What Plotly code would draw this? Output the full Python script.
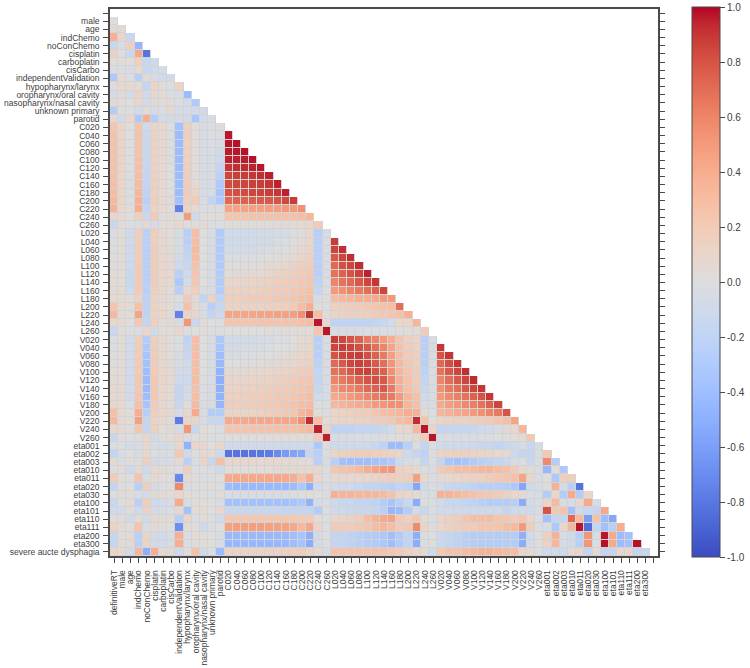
import plotly.graph_objects as go

clinical_labels = ["definitiveRT", "male", "age", "indChemo", "noConChemo", "cisplatin", "carboplatin", "cisCarbo",
                   "independentValidation", "hypopharynx/larynx", "oropharynx/oral cavity",
                   "nasopharynx/nasal cavity", "unknown primary", "parotid"]
c_labels = ["C020", "C040", "C060", "C080", "C100", "C120", "C140", "C160", "C180", "C200", "C220", "C240", "C260"]
l_labels = ["L020", "L040", "L060", "L080", "L100", "L120", "L140", "L160", "L180", "L200", "L220", "L240", "L260"]
v_labels = ["V020", "V040", "V060", "V080", "V100", "V120", "V140", "V160", "V180", "V200", "V220", "V240", "V260"]
eta_labels = ["eta001", "eta002", "eta003", "eta010", "eta011", "eta020", "eta030", "eta100", "eta101", "eta110",
              "eta111", "eta200", "eta300"]
outcome_labels = ["severe aucte dysphagia"]
labels = clinical_labels + c_labels + l_labels + v_labels + eta_labels + outcome_labels

clinical_rows = [
    [],
    [.0],
    [.05, .05],
    [.38, .1, -.15],
    [-.15, -.05, .15, -.45],
    [.15, 0, -.15, .42, -.82],
    [.03, .03, 0, .15, -.15, -.12],
    [-.05, -.03, -.05, .08, -.15, -.12, -.05],
    [-.32, .07, -.04, -.25, .05, -.07, -.1, -.1],
    [.02, .08, .08, .04, -.18, .12, .02, -.02, .12],
    [-.08, .05, -.08, .12, -.1, .08, .04, -.03, -.04, -.42],
    [.05, .02, 0, .1, -.08, .05, .03, .05, -.04, -.1, -.3],
    [-.28, 0, 0, -.1, .03, -.05, -.03, .06, -.06, -.06, -.1, -.08],
    [.08, -.12, .1, -.32, .4, -.28, -.08, -.08, -.08, -.1, -.35, -.08, -.05],
]
c_rows = [
    [.25, .12, 0, .25, -.12, .12, .08, 0, -.38, .15, .02, -.05, -.03, .01],
    [.27, .12, 0, .27, -.14, .13, .08, -.02, -.42, .17, .02, -.05, -.03, -.02, .97],
    [.27, .12, 0, .27, -.14, .13, .08, -.02, -.42, .16, .03, -.05, -.04, -.05, .97, .98],
    [.27, .12, -.01, .27, -.15, .13, .08, -.02, -.42, .16, .03, -.05, -.05, -.08, .96, .97, .98],
    [.27, .12, -.01, .28, -.16, .13, .08, -.02, -.42, .16, .03, -.05, -.05, -.12, .95, .95, .96, .98],
    [.28, .12, -.02, .29, -.17, .14, .08, -.01, -.42, .17, .03, -.05, -.05, -.18, .9, .92, .93, .95, .97],
    [.28, .12, -.02, .3, -.18, .14, .08, 0, -.42, .17, .03, -.06, -.05, -.22, .85, .87, .88, .9, .92, .95],
    [.29, .12, -.02, .31, -.19, .15, .08, 0, -.42, .18, .05, -.06, -.05, -.3, .83, .85, .85, .87, .88, .9, .95],
    [.3, .12, -.03, .35, -.22, .16, .08, 0, -.42, .2, .12, -.06, -.05, -.36, .8, .82, .83, .85, .86, .88, .9, .95],
    [.33, .12, -.02, .38, -.25, .17, .08, .02, -.38, .17, .2, -.05, -.2, -.32, .72, .74, .75, .76, .77, .78, .8, .84, .88],
    [.36, .08, .03, .4, -.18, .14, .08, 0, -.75, .12, .08, -.03, -.02, -.03, .45, .46, .46, .47, .47, .48, .48, .5, .5, .55],
    [.1, .08, 0, .17, -.14, .2, .02, .05, -.03, .48, -.12, .03, 0, .03, .25, .25, .25, .26, .26, .26, .27, .27, .27, .3, .35],
    [-.15, .02, -.03, -.05, .08, -.07, .03, .03, .08, .02, .02, .05, -.03, -.01, .02, .02, .02, .03, .03, .03, .04, .05, .05, .08, .1, .2],
]
l_rows = [
    [-.02, .03, -.12, .17, -.25, .17, .08, .03, -.05, -.25, .3, 0, -.05, -.3,
     -.12, -.12, -.12, -.12, -.1, -.09, -.07, -.05, -.02, .03, .08, -.25, -.05],
    [-.02, .03, -.12, .17, -.25, .17, .08, .04, -.05, -.25, .3, 0, -.05, -.3,
     -.12, -.12, -.12, -.1, -.09, -.08, -.05, -.04, 0, .05, .1, -.25, -.05, .88],
    [-.02, .03, -.12, .18, -.25, .18, .08, .05, -.05, -.22, .32, 0, -.05, -.3,
     -.09, -.09, -.09, -.08, -.07, -.05, -.03, -.01, .03, .08, .12, -.25, -.05, .85, .92],
    [0, .03, -.12, .19, -.25, .18, .1, .06, -.08, -.18, .3, 0, -.05, -.3,
     -.04, -.04, -.03, -.02, -.01, 0, .02, .04, .07, .12, .15, -.25, -.05, .78, .85, .92],
    [.02, .03, -.12, .2, -.25, .18, .1, .07, -.12, -.15, .27, 0, -.05, -.3,
     0, 0, .01, .02, .03, .05, .08, .1, .13, .17, .2, -.25, -.05, .72, .82, .85, .92],
    [.03, .03, -.15, .2, -.25, .18, .1, .08, -.25, -.12, .24, 0, -.05, -.28,
     .04, .05, .06, .07, .08, .1, .13, .15, .18, .2, .22, -.25, -.05, .68, .75, .8, .86, .95],
    [.05, .04, -.15, .2, -.25, .18, .1, .06, -.32, -.06, .22, 0, -.05, -.28,
     .1, .1, .11, .12, .13, .15, .17, .18, .2, .22, .25, -.22, -.03, .6, .68, .72, .78, .85, .9],
    [.05, .05, -.12, .2, -.25, .16, .08, .04, -.25, .08, .17, -.02, -.05, -.28,
     .14, .14, .15, .16, .17, .18, .2, .2, .22, .25, .28, -.18, -.03, .5, .55, .6, .65, .7, .75, .85],
    [.08, .06, .03, .14, -.22, .12, .06, .02, -.03, .2, .05, -.2, .12, -.2,
     .17, .17, .18, .2, .2, .2, .22, .22, .25, .28, .3, -.05, .02, .3, .33, .35, .38, .4, .42, .5, .5],
    [.25, .08, .03, .28, -.22, .14, .08, .04, -.05, .28, .05, -.05, -.25, -.15,
     .12, .12, .13, .13, .14, .15, .16, .17, .2, .3, .4, .02, -.03, .15, .17, .18, .2, .22, .25, .27, .3, .7],
    [.33, .06, .02, .45, -.22, .14, .12, .02, -.75, .12, .1, -.05, -.2, -.12,
     .45, .45, .45, .45, .46, .46, .47, .47, .48, .55, .9, .3, .03, .12, .14, .15, .16, .17, .2, .22, .25, .28, .38],
    [.08, .07, 0, .22, -.18, .16, .03, .05, -.05, .52, -.14, .03, 0, -.03,
     .25, .25, .25, .25, .26, .26, .26, .27, .27, .28, .3, .97, .08, -.22, -.22, -.22, -.22, -.22, -.2, -.16, -.1, .1, .1, .35],
    [-.15, .02, -.02, -.02, .1, -.1, .03, .03, .1, -.02, 0, .02, -.02, -.02,
     0, 0, 0, 0, 0, .01, .01, .02, .02, .02, .03, .25, .97, -.05, -.05, -.05, -.05, -.04, -.04, -.03, -.02, .02, .03, .05, .2],
]
v_rows = [
    [-.02, .04, -.1, .17, -.28, .17, .08, .03, -.03, -.22, .3, 0, -.05, -.32,
     -.09, -.09, -.09, -.08, -.07, -.05, -.03, -.02, 0, .06, .08, -.25, -.05,
     .88, .85, .8, .75, .65, .6, .5, .4, .25, .15, .12, -.25, -.05],
    [-.02, .04, -.1, .18, -.32, .18, .08, .03, -.03, -.18, .3, 0, -.05, -.36,
     -.08, -.08, -.07, -.06, -.05, -.03, -.01, 0, .03, .08, .1, -.25, -.05,
     .85, .88, .86, .82, .78, .7, .6, .45, .28, .18, .14, -.25, -.05, .9],
    [-.01, .04, -.1, .19, -.36, .19, .08, .03, -.05, -.15, .3, 0, -.05, -.4,
     -.05, -.05, -.04, -.03, -.02, -.01, .01, .03, .06, .1, .12, -.25, -.05,
     .8, .85, .87, .88, .82, .75, .65, .48, .3, .2, .15, -.25, -.05, .8, .9],
    [0, .04, -.1, .2, -.38, .2, .09, .05, -.06, -.12, .3, 0, -.05, -.44,
     0, 0, .01, .02, .03, .05, .06, .08, .1, .13, .15, -.22, -.05,
     .72, .78, .85, .87, .85, .78, .7, .52, .33, .22, .17, -.25, -.05, .72, .82, .9],
    [.03, .04, -.1, .2, -.4, .2, .1, .06, -.08, -.12, .3, 0, -.05, -.47,
     .05, .05, .06, .07, .08, .1, .12, .13, .15, .18, .2, -.18, -.05,
     .68, .72, .78, .85, .87, .8, .75, .55, .35, .25, .18, -.22, -.05, .68, .78, .85, .92],
    [.05, .05, -.1, .22, -.42, .22, .1, .06, -.12, -.12, .3, 0, -.05, -.5,
     .1, .1, .11, .12, .13, .14, .15, .17, .2, .22, .24, -.18, -.05,
     .6, .65, .7, .75, .8, .82, .78, .6, .38, .27, .2, -.18, -.05, .6, .7, .78, .85, .93],
    [.06, .06, -.1, .22, -.43, .22, .1, .05, -.18, -.1, .27, -.02, -.05, -.5,
     .14, .14, .15, .16, .17, .18, .2, .2, .23, .25, .27, -.15, -.05,
     .5, .58, .6, .65, .72, .75, .78, .65, .4, .28, .22, -.15, -.05, .55, .65, .7, .78, .85, .9],
    [.08, .06, -.08, .24, -.4, .22, .1, .05, -.18, -.06, .3, -.03, -.05, -.47,
     .16, .16, .17, .18, .19, .2, .22, .22, .25, .27, .3, -.1, -.05,
     .42, .46, .5, .55, .6, .65, .7, .65, .5, .35, .28, -.12, -.05, .5, .57, .62, .68, .75, .8, .9],
    [.1, .07, -.04, .28, -.36, .2, .1, .04, -.15, .02, .32, -.05, -.05, -.45,
     .17, .17, .18, .19, .2, .21, .23, .24, .27, .3, .32, -.02, -.03,
     .33, .36, .4, .42, .45, .5, .52, .55, .55, .35, .28, -.06, -.05, .42, .48, .52, .58, .62, .68, .75, .85],
    [.28, .08, .02, .4, -.26, .17, .1, .06, -.05, .08, .42, -.05, -.28, -.28,
     .12, .12, .13, .14, .15, .17, .2, .22, .25, .35, .4, .03, -.02,
     .12, .14, .16, .18, .2, .25, .3, .32, .35, .4, .38, .05, -.02, .35, .38, .42, .46, .5, .55, .6, .65, .8],
    [.33, .06, .02, .47, -.18, .14, .1, .03, -.78, .14, .12, -.05, -.15, -.15,
     .42, .42, .42, .43, .43, .43, .44, .45, .45, .55, .92, .3, .03,
     .12, .13, .14, .15, .16, .18, .2, .22, .3, .33, .92, .25, 0, .12, .14, .15, .16, .18, .2, .22, .25, .3, .45],
    [.08, .07, .02, .25, -.18, .16, .04, .05, -.05, .52, -.15, .03, 0, -.03,
     .25, .25, .25, .26, .26, .26, .27, .27, .27, .3, .33, .95, .12,
     -.22, -.22, -.22, -.2, -.2, -.18, -.15, -.1, .08, .08, .33, .97, .12, -.18, -.18, -.17, -.17, -.15, -.12, -.08, -.05, .05, .08, .35],
    [-.15, .02, -.02, -.02, .1, -.1, .03, .03, .1, -.02, 0, .03, -.02, -.02,
     0, 0, 0, 0, 0, .01, .01, .02, .02, .02, .03, .2, .95,
     -.05, -.05, -.05, -.05, -.04, -.04, -.03, -.02, .02, .03, .05, .2, .97, -.05, -.05, -.05, -.04, -.04, -.03, -.02, -.01, .01, .03, .05, .22],
]
eta_rows = [
    [-.02, -.02, -.08, -.05, .1, -.05, -.08, -.05, .07, -.48, .1, .1, 0, .1,
     -.1, -.1, -.1, -.1, -.1, -.11, -.11, -.12, -.12, -.12, -.12, -.32, -.02,
     -.12, -.12, -.12, -.12, -.12, -.15, -.22, -.42, -.42, -.25, -.03, -.18, -.02,
     -.1, -.12, -.12, -.12, -.12, -.15, -.15, -.2, -.15, -.12, -.05, -.15, -.05],
    [-.2, -.05, 0, -.05, .1, -.03, -.05, -.05, .22, -.12, 0, .07, .05, -.12,
     -.82, -.82, -.82, -.82, -.8, -.78, -.7, -.62, -.58, -.55, -.18, -.25, -.03,
     .12, .15, .15, .18, .18, .16, .16, .14, .1, -.12, -.18, -.22, -.03,
     .12, .14, .15, .15, .14, .12, .1, .08, .05, -.12, -.18, -.18, -.05, .22],
    [.05, -.05, .03, -.02, .17, -.08, -.06, -.05, .05, -.25, -.05, .12, -.15, .28,
     .1, .1, .1, .09, .08, .08, .08, .07, .06, .03, .02, -.25, -.05,
     -.25, -.38, -.4, -.4, -.4, -.38, -.35, -.3, -.12, -.05, -.03, -.18, -.03,
     -.18, -.35, -.38, -.35, -.3, -.25, -.22, -.18, -.15, -.05, -.03, -.15, -.05, .58, -.28],
    [-.02, .05, -.12, .05, -.12, .08, .05, .01, -.02, .17, -.03, 0, -.02, -.12,
     .03, .03, .03, .03, .04, .04, .05, .05, .06, .07, .08, .1, -.03,
     .22, .27, .28, .32, .4, .45, .5, .52, .15, .12, .08, -.02, -.05,
     .2, .25, .3, .3, .32, .35, .35, .3, .28, .2, .1, .03, -.05, -.45, 0, -.32],
    [.2, .03, 0, .25, -.05, .08, .02, 0, -.72, .05, .03, -.05, -.03, 0,
     .42, .44, .44, .44, .44, .44, .44, .42, .4, .27, .4, .1, -.03,
     .08, .08, .08, .1, .1, .12, .15, .18, .15, .17, .47, .1, -.03,
     .05, .08, .1, .12, .15, .16, .2, .22, .25, .27, .45, .1, -.05, 0, -.32, .17, .17],
    [-.2, .02, 0, -.25, .17, -.08, -.03, 0, .58, -.05, 0, .03, .03, -.03,
     -.42, -.44, -.44, -.44, -.44, -.44, -.44, -.44, -.42, -.32, -.5, -.12, -.03,
     -.1, -.12, -.12, -.15, -.18, -.2, -.22, -.25, -.2, -.22, -.55, -.12, -.03,
     -.1, -.15, -.18, -.2, -.22, -.25, -.25, -.25, -.28, -.32, -.55, -.12, -.05, .03, .37, -.05, -.25, -.82],
    [-.02, .02, .02, -.05, -.08, .05, .05, .03, .1, .03, -.02, 0, -.02, .03,
     -.05, -.05, -.05, -.05, -.05, -.05, -.05, -.04, -.03, 0, .03, 0, -.03,
     .38, .36, .36, .34, .34, .34, .32, .27, .12, .1, .05, -.03, -.05,
     .38, .36, .34, .3, .27, .24, .22, .2, .16, .1, .05, -.03, -.05, -.28, .1, -.28, .42, -.28, .1],
    [-.16, 0, .05, -.25, .17, -.12, -.1, -.05, .42, -.05, .03, .03, 0, -.05,
     -.38, -.38, -.38, -.38, -.38, -.38, -.38, -.38, -.36, -.32, -.48, -.06, -.03,
     -.12, -.15, -.15, -.18, -.2, -.22, -.28, -.36, -.25, -.15, -.52, -.02, -.03,
     -.1, -.15, -.16, -.2, -.22, -.25, -.28, -.28, -.28, -.25, -.52, -.08, -.03, .12, .32, -.05, -.05, .1, .42, -.05],
    [-.12, -.1, .03, -.12, .14, -.06, -.06, -.03, .05, -.38, .03, .05, 0, .1,
     -.15, -.15, -.15, -.15, -.15, -.16, -.16, -.18, -.18, -.18, -.2, -.28, -.02,
     -.12, -.12, -.15, -.15, -.15, -.18, -.25, -.45, -.42, -.28, -.1, -.15, -.03,
     -.1, -.1, -.12, -.12, -.12, -.12, -.12, -.12, -.18, -.12, -.12, -.12, -.05, .8, .22, .27, -.38, -.1, -.15, -.18, .42],
    [.02, .03, -.12, .05, -.12, .07, .05, .03, -.25, .12, -.03, .03, -.02, -.1,
     .22, .22, .22, .22, .22, .22, .22, .22, .22, .2, .2, .03, -.03,
     .1, .12, .14, .18, .3, .36, .42, .45, .2, .15, .24, .02, -.03,
     .1, .15, .18, .25, .3, .3, .3, .25, .25, .2, .25, .1, -.03, -.38, -.18, -.18, .72, .32, -.6, .27, -.42, -.55],
    [.14, .05, .03, .25, -.05, .07, .03, 0, -.68, .03, .02, -.12, -.02, 0,
     .47, .48, .48, .48, .48, .47, .47, .46, .44, .33, .44, .12, -.03,
     .2, .2, .2, .22, .25, .3, .35, .3, .2, .22, .57, .12, -.03,
     .1, .15, .18, .2, .2, .25, .25, .25, .3, .32, .5, .18, -.03, -.03, -.32, .1, .34, .97, -.85, -.18, -.38, -.25, .4],
    [-.17, .03, .05, -.25, .12, -.1, -.1, -.05, .38, -.03, .03, .03, 0, -.05,
     -.44, -.44, -.44, -.44, -.44, -.44, -.44, -.43, -.4, -.36, -.5, -.08, 0,
     -.18, -.2, -.22, -.25, -.28, -.3, -.33, -.4, -.3, -.2, -.5, -.02, 0,
     -.14, -.18, -.22, -.25, -.28, -.28, -.28, -.28, -.28, -.28, -.5, -.1, 0, .15, .37, -.05, -.12, -.25, .52, -.05, .97, .42, -.42, -.38],
    [-.17, .03, .05, -.25, .12, -.1, -.1, -.05, .4, -.03, .03, .03, 0, -.05,
     -.45, -.45, -.45, -.45, -.45, -.45, -.45, -.44, -.41, -.37, -.52, -.08, 0,
     -.18, -.2, -.22, -.25, -.28, -.3, -.33, -.4, -.3, -.2, -.52, -.02, 0,
     -.14, -.18, -.22, -.25, -.28, -.28, -.28, -.28, -.28, -.28, -.52, -.1, 0, .13, .35, -.05, -.12, -.25, .52, -.03, .98, .42, -.42, -.38, .98],
]
outcome_rows = [
    [.12, .08, -.1, .35, -.5, .4, .08, .05, -.12, .04, .28, -.12, -.03, -.42,
     .12, .12, .12, .12, .12, .13, .14, .15, .17, .18, .14, .05, -.07,
     .27, .27, .27, .27, .27, .27, .27, .24, .2, .15, .1, .05, -.12,
     .22, .27, .27, .32, .34, .37, .37, .34, .32, .3, .12, .05, -.03,
     -.12, -.12, -.12, .08, .1, -.18, .07, -.18, -.18, .08, .1, -.18, -.15],
]
tick_values = [1.0, 0.8, 0.6, 0.4, 0.2, 0.0, -0.2, -0.4, -0.6, -0.8, -1.0]

coolwarm = ["#3b4cc0", "#445acc", "#4d68d7", "#5775e1", "#6282ea", "#6c8ef1", "#779af7", "#82a5fb", "#8db0fe",
            "#98b9ff", "#a3c2ff", "#aec9fd", "#b8d0f9", "#c2d5f4", "#ccd9ee", "#d5dbe6", "#dddddd", "#e5d8d1",
            "#ecd3c5", "#f1ccb9", "#f5c4ad", "#f7bba0", "#f7b194", "#f7a687", "#f49a7b", "#f18d6f", "#ec7f63",
            "#e57058", "#de604d", "#d55042", "#cb3e38", "#c0282f", "#b40426"]
colorscale = [[i / (len(coolwarm) - 1), c] for i, c in enumerate(coolwarm)]

rows = clinical_rows + c_rows + l_rows + v_rows + eta_rows + outcome_rows
n = len(labels)
z = [list(r) + [None] * (n - len(r)) for r in rows]
backing = [[None if v is None else 0 for v in r] for r in z]
idx = list(range(n))

W, H = 750, 668
L, R, T, B = 110, 658, 9, 556
AXIS = "#4a4a4a"
TEXT = "#404040"
FONT = "Liberation Sans"

fig = go.Figure()
fig.add_trace(go.Heatmap(x=idx, y=idx, z=backing, zmin=-1, zmax=1, showscale=False, hoverinfo="skip",
                         colorscale=[[0, "#d3d3d3"], [1, "#d3d3d3"]]))
fig.add_trace(go.Heatmap(
    x=idx, y=idx, z=z, zmin=-1, zmax=1, colorscale=colorscale, xgap=1, ygap=1, hoverongaps=False,
    colorbar=dict(
        thickness=28, thicknessmode="pixels", len=550, lenmode="pixels",
        x=692 / W, xanchor="left", xpad=0, y=1 - 7 / H, yanchor="top", ypad=0,
        outlinecolor=AXIS, outlinewidth=1, tickmode="array", tickvals=tick_values,
        ticktext=[f"{v:.1f}" for v in tick_values], ticks="outside", ticklen=5, tickcolor=AXIS, tickwidth=1,
        tickfont=dict(family=FONT, size=10, color=TEXT),
    ),
))
fig.update_layout(
    width=W, height=H, margin=dict(l=0, r=0, t=0, b=0),
    paper_bgcolor="white", plot_bgcolor="white", showlegend=False,
    font=dict(family=FONT, size=8.5, color=TEXT),
    xaxis=dict(domain=[L / W, R / W], range=[-.5, n - .5], tickmode="array", tickvals=idx,
               ticktext=labels[:-1] + [""], tickangle=-90, ticks="outside", ticklen=5, tickwidth=1,
               tickcolor=AXIS, showgrid=False, zeroline=False, showline=True, linecolor=AXIS, linewidth=1.5,
               mirror=True, tickfont=dict(family=FONT, size=8.5, color=TEXT), anchor="y", automargin=False,
               ticklabelstandoff=4),
    yaxis=dict(domain=[1 - B / H, 1 - T / H], range=[n - .5, -.5], tickmode="array", tickvals=idx,
               ticktext=[""] + labels[1:], ticks="outside", ticklen=5, tickwidth=1, tickcolor=AXIS,
               showgrid=False, zeroline=False, showline=True, linecolor=AXIS, linewidth=1.5, mirror="ticks",
               tickfont=dict(family=FONT, size=8.5, color=TEXT), anchor="x", automargin=False,
               ticklabelstandoff=2),
)
fig.write_html("out.html", post_script="document.body.style.margin='0';", config={"displayModeBar": False})
